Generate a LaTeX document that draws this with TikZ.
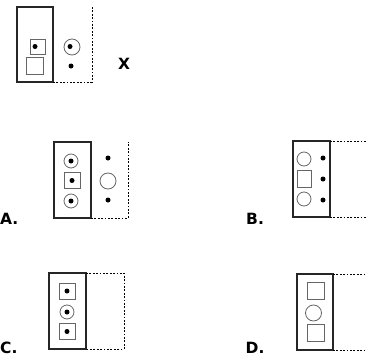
\documentclass[tikz,border=0pt]{standalone}
\usepackage{fontspec}
\setmainfont{DejaVu Sans}
\begin{document}
\begin{tikzpicture}[x=1pt,y=-1pt,
  frame/.style={draw=black!85,line width=1.3pt},
  dashl/.style={draw=black,line width=0.7pt,dash pattern=on 1.8pt off 1.6pt},
  hole/.style={circle,draw=black!60,line width=0.8pt,minimum size=14pt,inner sep=0pt},
  sq/.style={rectangle,draw=black!60,line width=0.8pt,minimum size=16pt,inner sep=0pt},
  dot/.style={circle,fill=black,minimum size=5pt,inner sep=0pt},
  lab/.style={font=\bfseries\fontsize{15.5}{16}\selectfont,inner sep=0pt,anchor=base west}]
\useasboundingbox (0,0) rectangle (367,356);
% ---- X
\draw[frame] (17,7) rectangle (53,82);
\draw[dashl] (53,82) -- (92,82) -- (92,7);
\node[sq,minimum size=15pt] (xs1) at (37.5,46.5) {};
\node[dot] (xd1) at (35,46.5) {};
\node[sq,minimum size=17pt] (xs2) at (34.5,66) {};
\node[hole,minimum size=16pt] (xc1) at (72,47) {};
\node[dot] (xd2) at (70,46.5) {};
\node[dot] (xd3) at (71,66) {};
\node[lab] (lx) at (118,69.5) {X};
% ---- A
\draw[frame] (54,142) rectangle (91,218);
\draw[dashl] (91,218) -- (128,218) -- (128,142);
\node[hole] (ac1) at (71,161) {};
\node[dot] (ad1) at (71,161) {};
\node[sq] (as1) at (72,180.5) {};
\node[dot] (ad2) at (72,180.5) {};
\node[hole] (ac2) at (71,201) {};
\node[dot] (ad3) at (71,201) {};
\node[dot] (ad4) at (108,158) {};
\node[hole,minimum size=16pt] (ac3) at (108,181) {};
\node[dot] (ad5) at (108,200) {};
\node[lab] (la) at (0,224.5) {A.};
% ---- B
\draw[frame] (293,141) rectangle (330,217);
\draw[dashl] (330,141) -- (367,141);
\draw[dashl] (330,217) -- (367,217);
\node[hole] (bc1) at (304,159) {};
\node[sq,minimum width=14pt,minimum height=17pt] (bs1) at (304,178.5) {};
\node[hole] (bc2) at (304,199) {};
\node[dot] (bd1) at (323,158) {};
\node[dot] (bd2) at (323,179) {};
\node[dot] (bd3) at (323,200) {};
\node[lab] (lb) at (246,224.5) {B.};
% ---- C
\draw[frame] (49,273) rectangle (86,349);
\draw[dashl] (86,273) -- (124,273) -- (124,349) -- (86,349);
\node[sq] (cs1) at (67,291) {};
\node[dot] (cd1) at (67,291) {};
\node[hole] (cc1) at (67,312) {};
\node[dot] (cd2) at (67,312) {};
\node[sq] (cs2) at (67,331.5) {};
\node[dot] (cd3) at (67,331.5) {};
\node[lab] (lc) at (0,353.5) {C.};
% ---- D
\draw[frame] (297,274) rectangle (333,350);
\draw[dashl] (333,274) -- (367,274);
\draw[dashl] (333,350) -- (367,350);
\node[sq,minimum size=17pt] (ds1) at (315.5,290.5) {};
\node[hole,minimum size=16pt] (dc1) at (313.5,313) {};
\node[sq,minimum size=17pt] (ds2) at (315.5,333) {};
\node[lab] (ld) at (245.5,353) {D.};
\end{tikzpicture}
\end{document}
